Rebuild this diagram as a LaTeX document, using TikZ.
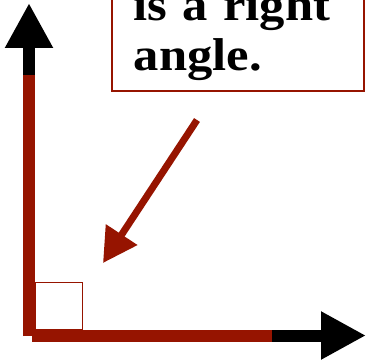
\documentclass[tikz,border=0pt]{standalone}
\usepackage{fontspec}
\newfontfamily\notefont{Liberation Serif}[FakeStretch=1.1]
\usetikzlibrary{arrows.meta,positioning}
\definecolor{rust}{RGB}{150,20,0}
\tikzset{
  axis/.style={line width=12pt,draw=rust},
  axis tip/.style={line width=12pt,draw=black,-{Triangle[length=45pt,width=45pt]}},
  pointer/.style={line width=7pt,draw=rust,-{Triangle[length=34pt,width=36pt]}},
  note/.style={draw=rust,line width=1.5pt,align=left,text width=208pt,
    inner xsep=22pt,inner ysep=11pt,font=\notefont\fontsize{46}{50}\selectfont\bfseries},
}
\begin{document}
\begin{tikzpicture}[x=1pt,y=-1pt]
  \useasboundingbox (0,0) rectangle (366,363);
  \clip (0,0) rectangle (366,363);
  % axes
  \coordinate (origin) at (29,336);
  \coordinate (yred) at (29,75);
  \coordinate (ytop) at (29,3);
  \coordinate (xleft) at (32,335.5);
  \coordinate (xred) at (272,335.5);
  \coordinate (xend) at (366,335.5);
  \draw[axis] (origin) -- (yred);
  \draw[axis tip] (yred) -- (ytop);
  \draw[axis] (xleft) -- (xred);
  \draw[axis tip] (xred) -- (xend);
  % right angle mark
  \draw[rust,line width=1pt] (35,282) rectangle (82,329);
  % callout
  \node[note,anchor=south west] (label) at (111,92) {is a right\\angle.};
  \coordinate (tail) at (197,120);
  \coordinate (corner) at (103,263);
  \draw[pointer] (tail) -- (corner);
\end{tikzpicture}
\end{document}
